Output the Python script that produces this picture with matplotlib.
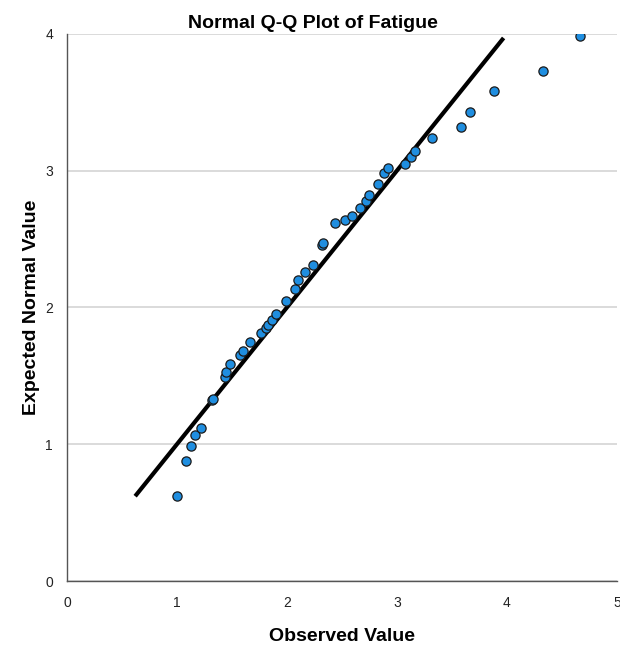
import matplotlib
matplotlib.use("Agg")
from matplotlib import pyplot as plt
import numpy as np

plt.rcParams['font.family'] = ['Liberation Sans', 'DejaVu Sans']

observed = [1.00, 1.08, 1.13, 1.16, 1.22, 1.32, 1.33, 1.44, 1.45, 1.48,
            1.57, 1.60, 1.66, 1.76, 1.81, 1.83, 1.86, 1.90, 1.99, 2.07,
            2.10, 2.16, 2.24, 2.32, 2.33, 2.44, 2.53, 2.59, 2.66, 2.72,
            2.745, 2.83, 2.88, 2.92, 3.075, 3.13, 3.16, 3.32, 3.58, 3.66,
            3.88, 4.33, 4.66]
expected = [0.62, 0.88, 0.99, 1.07, 1.12, 1.32, 1.33, 1.49, 1.53, 1.59,
            1.65, 1.68, 1.75, 1.815, 1.85, 1.875, 1.91, 1.955, 2.045, 2.135,
            2.20, 2.26, 2.31, 2.46, 2.47, 2.62, 2.64, 2.665, 2.73, 2.78,
            2.82, 2.90, 2.98, 3.02, 3.05, 3.10, 3.14, 3.235, 3.32, 3.43,
            3.58, 3.73, 3.985]

# reference line y = x
line_x = [0.62, 3.97]

x_ticks = [0, 1, 2, 3, 4, 5]
y_ticks = [0, 1, 2, 3, 4]

fig = plt.figure(figsize=(6.2, 6.46), dpi=100)
ax = fig.add_axes([0.108, 0.1006, 0.887, 0.847])

ax.plot(line_x, line_x, color='black', lw=3, zorder=2, solid_capstyle='butt')
ax.scatter(observed, expected, s=44, color='#1f8ee0', edgecolor='#1a1a1a',
           linewidth=0.9, zorder=3)

ax.set_xlim(0, 5)
ax.set_ylim(0, 4)
ax.set_xticks(x_ticks)
ax.set_yticks(y_ticks)
ax.tick_params(length=0, labelsize=10, colors='#222222')
ax.tick_params(axis='x', pad=11)
ax.tick_params(axis='y', pad=10)

ax.grid(axis='y', color='#d4d4d4', lw=1.2)
ax.set_axisbelow(True)
for s in ['top', 'right']:
    ax.spines[s].set_visible(False)
for s in ['left', 'bottom']:
    ax.spines[s].set_color('#555555')
    ax.spines[s].set_linewidth(1.0)

ax.set_xlabel('Observed Value', fontsize=14, fontweight='bold', labelpad=13)
ax.set_ylabel('Expected Normal Value', fontsize=14, fontweight='bold', labelpad=4)
fig.text(0.505, 0.964, 'Normal Q-Q Plot of Fatigue', fontsize=14,
         fontweight='bold', ha='center', va='center')

fig.savefig('out.png', dpi=100)
